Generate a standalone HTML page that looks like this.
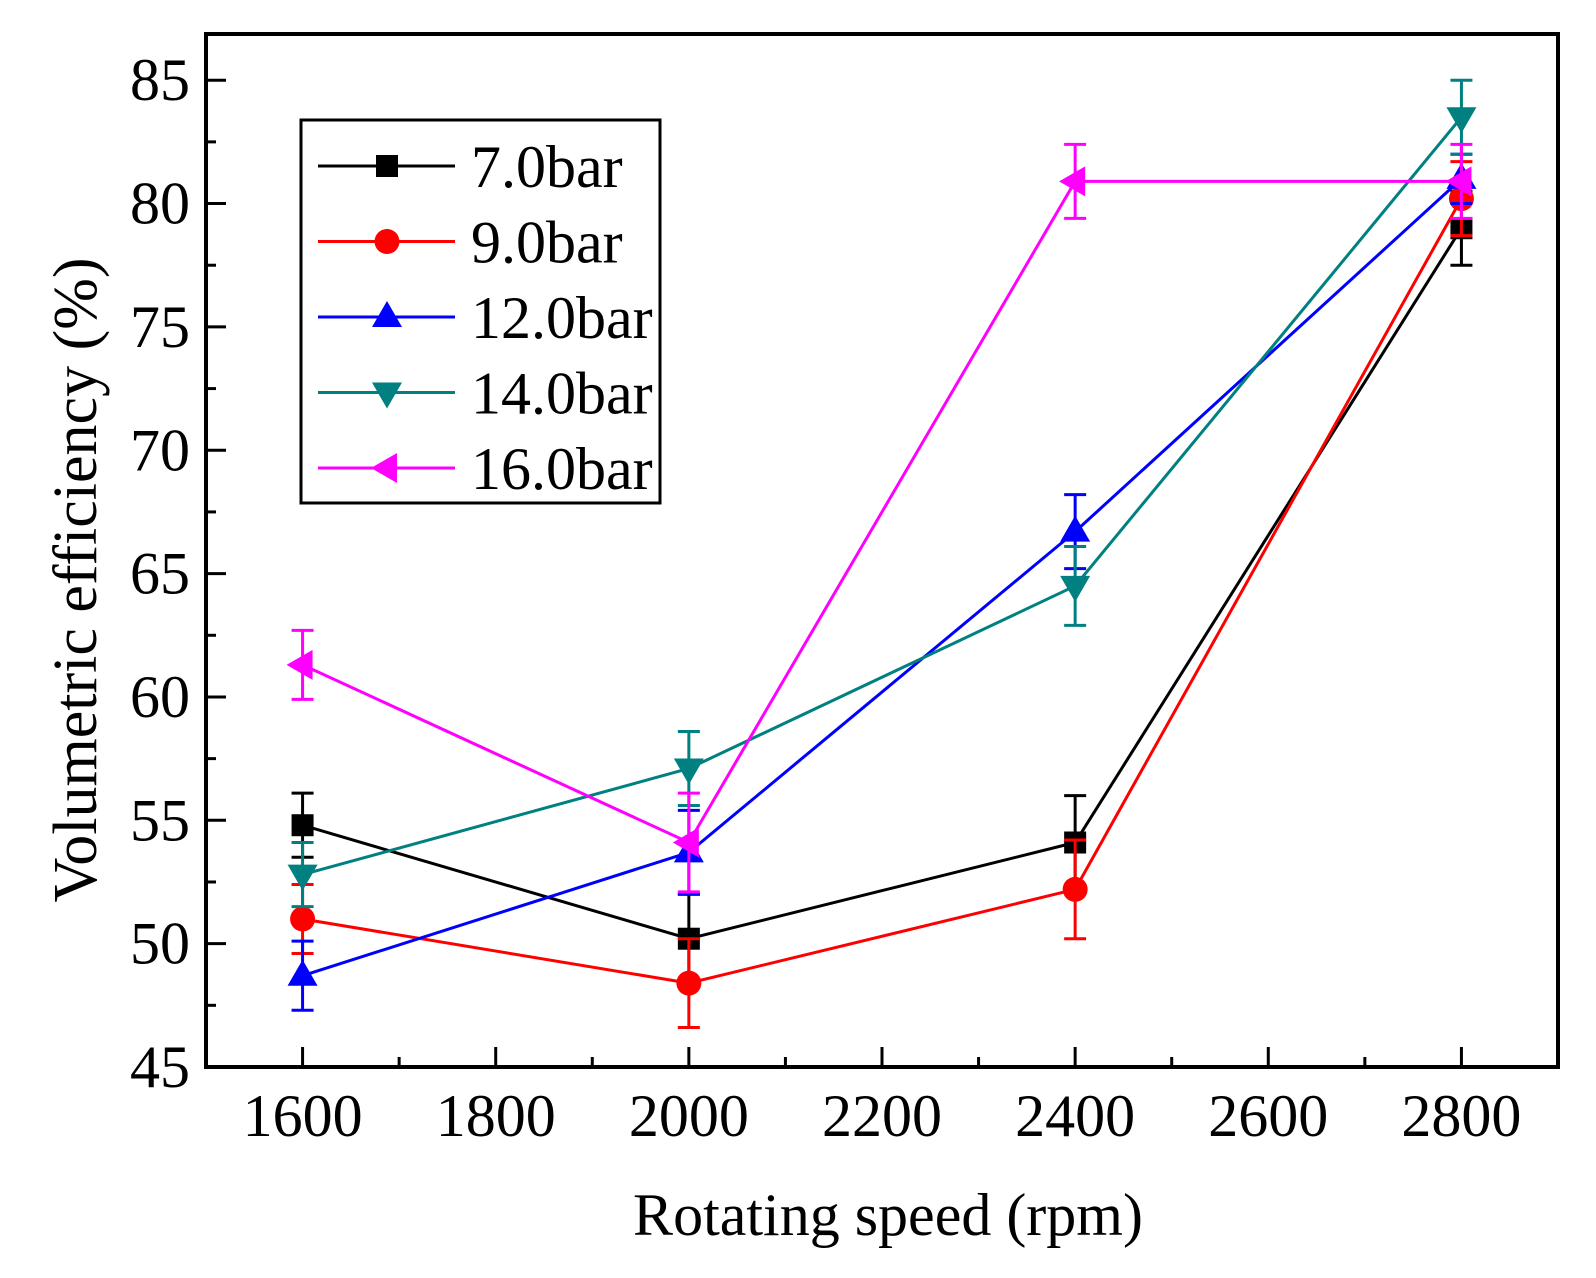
<!DOCTYPE html>
<html><head><meta charset="utf-8"><style>
html,body{margin:0;padding:0;background:#fff}
svg{display:block}
text{font-family:"Liberation Serif",serif;fill:#000}
</style></head><body>
<svg id="chart" width="1596" height="1278" viewBox="0 0 1596 1278" xmlns="http://www.w3.org/2000/svg"></svg>
<script>
const categories=[1600,2000,2400,2800];
const seriesNames=["7.0bar","9.0bar","12.0bar","14.0bar","16.0bar"];
const s7=[54.8,50.2,54.1,79.0];
const s9=[51.0,48.4,52.2,80.2];
const s12=[48.7,53.7,66.7,81.0];
const s14=[52.8,57.1,64.5,83.5];
const s16=[61.3,54.1,80.9,80.9];
const e7=[1.3,1.8,1.9,1.5];
const e9=[1.4,1.8,2.0,1.5];
const e12=[1.4,1.7,1.5,1.0];
const e14=[1.3,1.5,1.6,1.5];
const e16=[1.4,2.0,1.5,1.5];
const xTicks=[1600,1800,2000,2200,2400,2600,2800];
const yTicks=[45,50,55,60,65,70,75,80,85];

const NS="http://www.w3.org/2000/svg";
const svg=document.getElementById('chart');
const L=206,R=1558,T=34,B=1067;
const xMin=1500,xMax=2900,yMin=45,yPx=24.67;
function X(v){return L+(v-xMin)*(R-L)/(xMax-xMin);}
function Y(v){return B-(v-yMin)*yPx;}
function el(tag,attrs,parent){const e=document.createElementNS(NS,tag);for(const k in attrs)e.setAttribute(k,attrs[k]);(parent||svg).appendChild(e);return e;}

const colors=["#000000","#ff0000","#0000ff","#008080","#ff00ff"];
const vals=[s7,s9,s12,s14,s16];
const errs=[e7,e9,e12,e14,e16];
const shapes=["square","circle","up","down","left"];

function marker(shape,cx,cy,c,parent){
  let m;
  if(shape==="square")m=el('rect',{x:cx-11,y:cy-11,width:22,height:22,fill:c},parent);
  else if(shape==="circle")m=el('circle',{cx:cx,cy:cy,r:12.5,fill:c},parent);
  else if(shape==="up")m=el('polygon',{points:`${cx},${cy-16} ${cx-15},${cy+10} ${cx+15},${cy+10}`,fill:c},parent);
  else if(shape==="down")m=el('polygon',{points:`${cx},${cy+16} ${cx-15},${cy-10} ${cx+15},${cy-10}`,fill:c},parent);
  else m=el('polygon',{points:`${cx-16},${cy} ${cx+10},${cy-15} ${cx+10},${cy+15}`,fill:c},parent);
  return m;
}

const axes=el('g',{});


for(let v=1500;v<=2900;v+=100){
  const major=xTicks.includes(v);
  const t=el('line',{x1:X(v),x2:X(v),y1:B,y2:B-(major?20:10),stroke:'#000','stroke-width':3},axes);
  
  
}
for(let v=45;v<=87.5;v+=2.5){
  if(Y(v)<T)continue;
  const major=yTicks.includes(v);
  const t=el('line',{x1:L,x2:L+(major?20:10),y1:Y(v),y2:Y(v),stroke:'#000','stroke-width':3},axes);
  
  
}
xTicks.forEach(v=>{
  const t=el('text',{x:X(v),y:1136,'font-size':60,'text-anchor':'middle'},axes);
  t.textContent=v;
  
  
});
yTicks.forEach(v=>{
  const t=el('text',{x:190,y:Y(v)+20,'font-size':60,'text-anchor':'end'},axes);
  t.textContent=v;
  
  
});
const xt=el('text',{x:888,y:1235,'font-size':60,'text-anchor':'middle'});
xt.textContent="Rotating speed (rpm)";


const yt=el('text',{x:0,y:0,'font-size':62,'text-anchor':'middle',transform:'translate(96,580) rotate(-90)'});
yt.textContent="Volumetric efficiency (%)";



vals.forEach((arr,si)=>{
  const g=el('g',{});
  
  
  const pts=arr.map((v,i)=>X(categories[i])+','+Y(v)).join(' ');
  const pl=el('polyline',{points:pts,fill:'none',stroke:colors[si],'stroke-width':3},g);
  
  
  arr.forEach((v,i)=>{
    const cx=X(categories[i]),e=errs[si][i];
    const eb=el('path',{d:`M${cx},${Y(v-e)}V${Y(v+e)}M${cx-11},${Y(v-e)}H${cx+11}M${cx-11},${Y(v+e)}H${cx+11}`,stroke:colors[si],'stroke-width':3,fill:'none'},g);
    
    
    const m=marker(shapes[si],cx,Y(v),colors[si],g);
    
    
  });
});

const fr=el('rect',{x:L,y:T,width:R-L,height:B-T,fill:'none',stroke:'#000','stroke-width':4});



const lg=el('g',{});


el('rect',{x:301,y:120,width:359,height:383,fill:'#fff',stroke:'#000','stroke-width':3},lg);
seriesNames.forEach((n,si)=>{
  const y=166+si*75.5;
  const ent=el('g',{},lg);
  
  
  el('line',{x1:318,x2:455,y1:y,y2:y,stroke:colors[si],'stroke-width':3},ent);
  marker(shapes[si],387,y,colors[si],ent);
  const t=el('text',{x:471,y:y+21,'font-size':60},ent);
  t.textContent=n;
});
</script>
</body></html>
